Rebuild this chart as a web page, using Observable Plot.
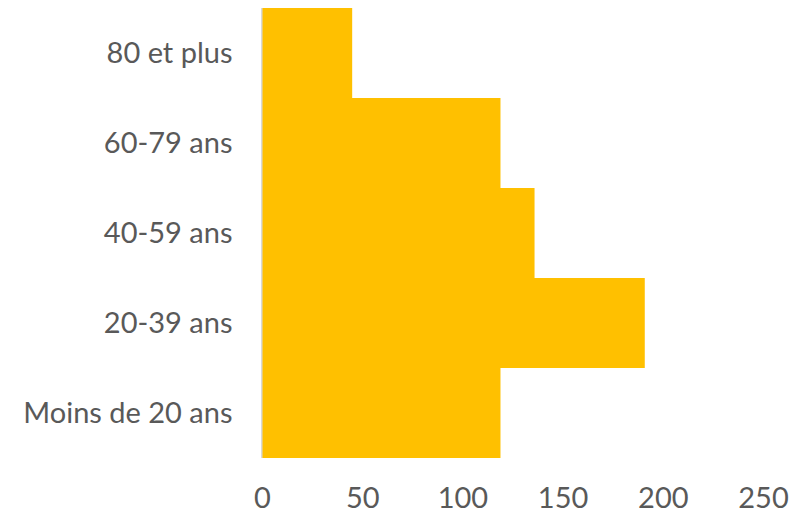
<!DOCTYPE html>
<html>
<head>
<meta charset="utf-8">
<script src="https://cdn.jsdelivr.net/npm/d3@7"></script>
<script src="https://cdn.jsdelivr.net/npm/@observablehq/plot@0.6"></script>
<style>
  html, body { margin: 0; padding: 0; background: #fff; }
  #chart svg { display: block; }
</style>
</head>
<body>
<div id="chart"></div>
<script>
const categories = ["80 et plus", "60-79 ans", "40-59 ans", "20-39 ans", "Moins de 20 ans"];
const values = [45, 119, 136, 191, 119];
const xTicks = [0, 50, 100, 150, 200, 250];

const data = categories.map((c, i) => ({ category: c, value: values[i] }));

const chart = Plot.plot({
  width: 797,
  height: 516,
  marginLeft: 262,
  marginRight: 34,
  marginTop: 8,
  marginBottom: 58,
  style: { fontFamily: "Lato, sans-serif", fontSize: "29px", color: "#595959", background: "#fff" },
  x: { domain: [0, 250], ticks: xTicks, label: null },
  y: { domain: categories, padding: 0, label: null },
  marks: [
    Plot.barX(data, { x: "value", y: "category", fill: "#FFC000", inset: 0 }),
    Plot.ruleX([0], { stroke: "#d9d9d9", strokeWidth: 1.5, dx: -0.75 }),
    Plot.axisX({ ticks: xTicks, tickSize: 0, tickPadding: 29, fill: "#595959", fontSize: 29 }),
    Plot.axisY({ tickSize: 0, tickPadding: 30, fill: "#595959", fontSize: 29 })
  ]
});
document.getElementById("chart").appendChild(chart);
</script>
</body>
</html>
